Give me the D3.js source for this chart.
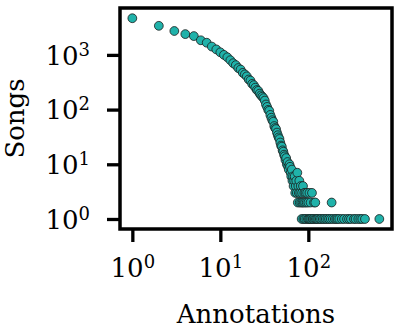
<!DOCTYPE html>
<html>
<head>
<meta charset="utf-8">
<script src="https://cdn.jsdelivr.net/npm/d3@7"></script>
<style>
  body { margin: 0; background: #fff; }
  text { font-family: "DejaVu Serif", serif; fill: #000; }
</style>
</head>
<body>
<div id="chart"></div>
<script>
// songs per annotation count
var annotations = [1, 2, 3, 4, 5, 6, 7, 8, 9, 10,
  11, 12, 13, 14, 15, 16, 17, 18, 19, 20,
  21, 22, 23, 24, 25, 26, 27, 28, 29, 30,
  31, 32, 33, 34, 35, 36, 37, 38, 39, 40,
  41, 42, 43, 44, 45, 46, 47, 48, 49, 50,
  51, 52, 53, 54, 55, 56, 57, 58, 59, 60,
  61, 62, 63, 64, 65, 66, 67, 68, 69, 70,
  71, 72, 73, 74, 75, 76, 77, 78, 79, 80,
  81, 82, 83, 84, 85, 86, 87, 88, 89, 90,
  91, 92, 93, 95, 96, 97, 99, 100, 102, 103,
  105, 106, 108, 110, 112, 114, 116, 118, 120, 122,
  126, 130, 135, 140, 146, 152, 158, 165, 172, 180,
  184, 190, 200, 208, 215, 225, 240, 255, 275, 290,
  305, 330, 345, 370, 390, 410, 440, 641];
var songs = [4680, 3400, 2735, 2400, 2210, 1850, 1670, 1420, 1260, 1115,
  1000, 905, 800, 705, 650, 575, 540, 470, 440, 405,
  355, 340, 295, 280, 252, 228, 220, 196, 182, 172,
  162, 146, 124, 112, 99, 95, 80, 71, 64, 60,
  50, 46, 44, 38, 34, 31, 29, 25, 22, 21,
  18, 17, 15, 14, 12, 13, 10, 11, 9, 8,
  10, 9, 7, 6, 8, 5, 6, 4, 5, 6,
  3, 4, 5, 3, 7, 2, 4, 3, 5, 2,
  3, 4, 2, 1, 3, 2, 4, 1, 2, 3,
  1, 2, 3, 1, 2, 3, 1, 2, 1, 3,
  1, 2, 1, 3, 1, 1, 2, 1, 2, 1,
  1, 1, 1, 1, 1, 1, 1, 1, 1, 1,
  2, 1, 1, 1, 1, 1, 1, 1, 1, 1,
  1, 1, 1, 1, 1, 1, 1, 1];
var tickValues = [1, 10, 100, 1000];
var tickExps = ["0", "1", "2", "3"];

var W = 400, H = 331;
var margin = {top: 8, right: 8, bottom: 102, left: 120},
    width = W - margin.left - margin.right,
    height = H - margin.top - margin.bottom;

var svg = d3.select("#chart")
    .append("svg")
    .attr("width", W)
    .attr("height", H)
    .append("g")
    .attr("transform", "translate(" + margin.left + "," + margin.top + ")");

var x = d3.scaleLog().domain([0.724, 893]).range([0, width]);
var y = d3.scaleLog().domain([0.656, 7200]).range([height, 0]);

var fs = 26;

function powerLabel(sel) {
  sel.selectAll(".tick text").each(function(d) {
    var t = d3.select(this);
    var i = tickValues.indexOf(d);
    t.text("");
    t.append("tspan").text("10");
    t.append("tspan").text(tickExps[i])
      .attr("font-size", Math.round(fs * 0.7))
      .attr("dy", -9);
  });
  sel.selectAll("text").attr("font-size", fs).attr("font-family", "DejaVu Serif");
  sel.select(".domain").remove();
  sel.selectAll(".tick line").attr("stroke", "#000").attr("stroke-width", 3.3);
}

var xAxis = svg.append("g")
    .attr("transform", "translate(0," + height + ")")
    .call(d3.axisBottom(x).tickValues([1, 10, 100]).tickSize(13).tickPadding(10));
xAxis.call(powerLabel);
xAxis.selectAll(".tick text").attr("dy", "0.95em").attr("text-anchor", "middle");

var yAxis = svg.append("g")
    .call(d3.axisLeft(y).tickValues(tickValues).tickSize(13).tickPadding(17));
yAxis.call(powerLabel);
yAxis.selectAll(".tick text").attr("dy", "0.36em");

// points
var pts = annotations.map(function(a, i) { return {a: a, s: songs[i]}; });
svg.append("g")
  .selectAll("circle")
  .data(pts)
  .enter()
  .append("circle")
  .attr("cx", function(d) { return x(d.a); })
  .attr("cy", function(d) { return y(d.s); })
  .attr("r", 4.4)
  .attr("fill", "#20b2aa")
  .attr("stroke", "#1a1a1a")
  .attr("stroke-width", 0.8);

// frame
svg.append("rect")
  .attr("x", 0).attr("y", 0)
  .attr("width", width).attr("height", height)
  .attr("fill", "none")
  .attr("stroke", "#000")
  .attr("stroke-width", 3.5);

// axis labels
svg.append("text")
  .attr("x", width / 2)
  .attr("y", 315)
  .attr("text-anchor", "middle")
  .attr("font-size", fs)
  .text("Annotations");

svg.append("text")
  .attr("transform", "translate(" + (24 - margin.left) + "," + (height / 2) + ") rotate(-90)")
  .attr("text-anchor", "middle")
  .attr("font-size", fs)
  .text("Songs");
</script>
</body>
</html>
